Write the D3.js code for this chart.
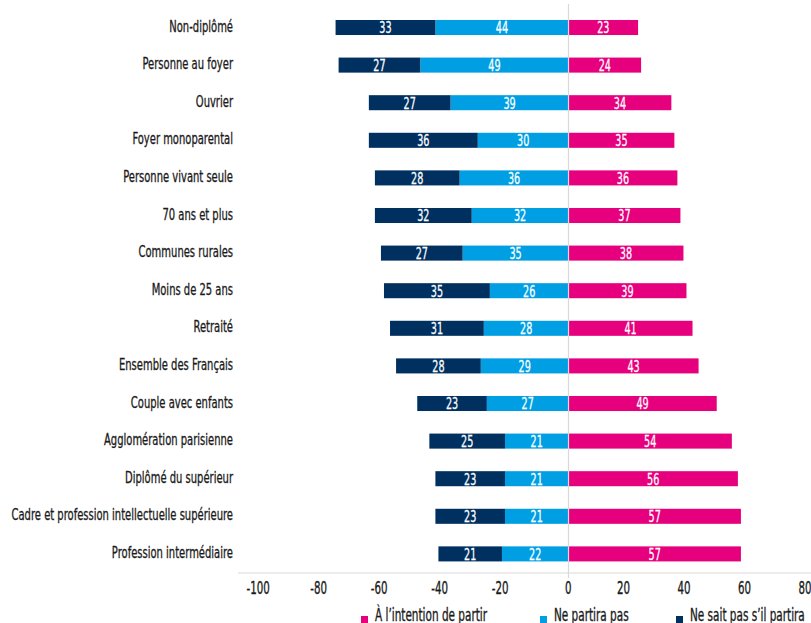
<!DOCTYPE html>
<html>
<head>
<meta charset="utf-8">
<script src="https://cdn.jsdelivr.net/npm/d3@7"></script>
<style>
  body { margin: 0; background: #fff; }
  svg text { font-family: "DejaVu Sans Condensed", "DejaVu Sans", sans-serif; }
</style>
</head>
<body>
<div id="chart"></div>
<script>
var categories = ["Non-diplômé", "Personne au foyer", "Ouvrier", "Foyer monoparental",
    "Personne vivant seule", "70 ans et plus", "Communes rurales", "Moins de 25 ans",
    "Retraité", "Ensemble des Français", "Couple avec enfants", "Agglomération parisienne",
    "Diplômé du supérieur", "Cadre et profession intellectuelle supérieure", "Profession intermédiaire"];
var intentionPartir = [23, 24, 34, 35, 36, 37, 38, 39, 41, 43, 49, 54, 56, 57, 57];
var nePartiraPas = [44, 49, 39, 30, 36, 32, 35, 26, 28, 29, 27, 21, 21, 21, 22];
var neSaitPas = [33, 27, 27, 36, 28, 32, 27, 35, 31, 28, 23, 25, 23, 23, 21];
var xTicks = [-100, -80, -60, -40, -20, 0, 20, 40, 60, 80];
var seriesNames = ["À l’intention de partir", "Ne partira pas", "Ne sait pas s’il partira"];

var colors = d3.scaleOrdinal().domain(seriesNames).range(["#e6007e", "#009fe3", "#00305f"]);
var ink = "#1a1a1a";

var svg = d3.select("#chart").append("svg").attr("width", 811).attr("height", 623);

var x = d3.scaleLinear().domain([-100, 80]).range([266, 810.5]);
var y = d3.scaleBand().domain(categories).range([8.7, 572.7]).paddingInner(0.6).paddingOuter(0.3);

// rows: one segment per series, stacked outward from zero
var rows = categories.map(function(c, i) {
    return [
        { cat: c, s: seriesNames[0], x0: 0, x1: intentionPartir[i], v: intentionPartir[i] },
        { cat: c, s: seriesNames[1], x0: -nePartiraPas[i], x1: 0, v: nePartiraPas[i] },
        { cat: c, s: seriesNames[2], x0: -nePartiraPas[i] - neSaitPas[i], x1: -nePartiraPas[i], v: neSaitPas[i] }
    ];
});
var segs = d3.merge(rows);

// x axis line + labels
var axisY = 573;
svg.append("line")
    .attr("x1", 238).attr("x2", 811)
    .attr("y1", axisY).attr("y2", axisY)
    .attr("stroke", "#d9d9d9").attr("stroke-width", 1);

var xAxis = svg.append("g")
    .attr("transform", "translate(0," + axisY + ")")
    .call(d3.axisBottom(x).tickValues(xTicks).tickSize(0).tickPadding(8.7)
        .tickFormat(function(d) { return String(d); }));
xAxis.select(".domain").remove();
xAxis.selectAll("text")
    .attr("dx", function(d) { return d < 0 ? -12.5 : (d == 0 ? -1 : -9); })
    .attr("transform", "scale(0.67,1)")
    .attr("fill", ink)
    .attr("stroke", ink).attr("stroke-width", 0.35)
    .attr("font-size", 17)
    .style("font-family", null);

// bars
svg.selectAll("rect.bar")
    .data(segs)
    .enter()
    .append("rect")
    .attr("class", "bar")
    .attr("x", function(d) { return x(d.x0); })
    .attr("width", function(d) { return x(d.x1) - x(d.x0); })
    .attr("y", function(d) { return y(d.cat); })
    .attr("height", y.bandwidth())
    .attr("fill", function(d) { return colors(d.s); });

// zero line
svg.append("line")
    .attr("x1", x(0)).attr("x2", x(0))
    .attr("y1", 4).attr("y2", axisY + 5)
    .attr("stroke", "#d9d9d9").attr("stroke-width", 1.2);

// value labels
svg.selectAll("text.val")
    .data(segs)
    .enter()
    .append("text")
    .attr("class", "val")
    .text(function(d) { return d.v; })
    .attr("transform", function(d) {
        return "translate(" + (x(d.x0) + x(d.x1)) / 2 + "," + (y(d.cat) + y.bandwidth() / 2) + ") scale(0.65,1)";
    })
    .attr("dy", "0.36em")
    .attr("text-anchor", "middle")
    .attr("fill", "#fff")
    .attr("stroke", "#fff").attr("stroke-width", 0.3)
    .attr("font-size", 16.5);

// category labels
svg.selectAll("text.cat")
    .data(categories)
    .enter()
    .append("text")
    .attr("class", "cat")
    .text(function(d) { return d; })
    .attr("transform", function(d) {
        return "translate(233," + (y(d) + y.bandwidth() / 2 + 4) + ") scale(0.74,1)";
    })
    .attr("text-anchor", "end")
    .attr("fill", ink)
    .attr("stroke", ink).attr("stroke-width", 0.3)
    .attr("font-size", 15);

// legend
var legendX = [361, 540, 676];
var legend = svg.selectAll("g.leg")
    .data(seriesNames)
    .enter()
    .append("g")
    .attr("class", "leg")
    .attr("transform", function(d, i) { return "translate(" + legendX[i] + ",616)"; });
legend.append("rect")
    .attr("x", 0).attr("y", 0)
    .attr("width", 7).attr("height", 7)
    .attr("fill", function(d) { return colors(d); });
legend.append("text")
    .text(function(d) { return d; })
    .attr("transform", "translate(14,5.2) scale(0.67,1)")
    .attr("fill", ink)
    .attr("stroke", ink).attr("stroke-width", 0.35)
    .attr("font-size", 17.4);
</script>
</body>
</html>
